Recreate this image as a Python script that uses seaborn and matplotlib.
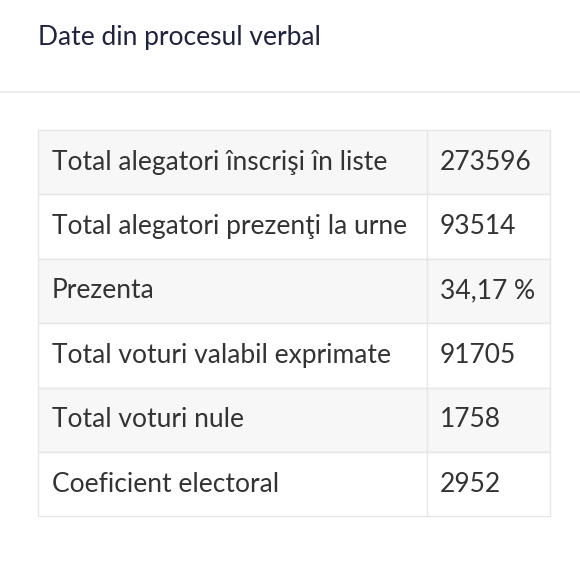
import matplotlib
matplotlib.use("Agg")
import matplotlib.pyplot as plt
from matplotlib.patches import Rectangle
import seaborn as sns

title = "Date din procesul verbal"
labels = ["Total alegatori înscrişi în liste", "Total alegatori prezenţi la urne", "Prezenta",
          "Total voturi valabil exprimate", "Total voturi nule", "Coeficient electoral"]
values = ["273596", "93514", "34,17 %", "91705", "1758", "2952"]

sns.set_theme(style="white")
plt.rcParams['font.family'] = ['Lato', 'DejaVu Sans']

fig = plt.figure(figsize=(5.8, 5.8), dpi=100)
ax = fig.add_axes([0, 0, 1, 1])
ax.set_xlim(0, 580)
ax.set_ylim(580, 0)
ax.axis("off")

# header
ax.text(38, 37, title, fontsize=19, color="#1e2340", va="center", ha="left")
ax.plot([0, 580], [92, 92], color="#ececf0", lw=1.2)

# table
left, mid, right = 38, 427, 550
top, row_h = 130, 64.4
grid = "#e6e6e6"
for i, (lab, val) in enumerate(zip(labels, values)):
    y0 = top + i * row_h
    fill = "#f7f7f7" if i % 2 == 0 else "white"
    ax.add_patch(Rectangle((left, y0), right - left, row_h, facecolor=fill,
                           edgecolor=grid, lw=1))
    ax.plot([mid, mid], [y0, y0 + row_h], color=grid, lw=1)
    yc = y0 + row_h / 2
    ax.text(52, yc, lab, fontsize=19, color="#333333", va="center", ha="left")
    ax.text(440, yc, val, fontsize=19, color="#333333", va="center", ha="left")

fig.savefig("out.png", dpi=100, facecolor="white")
